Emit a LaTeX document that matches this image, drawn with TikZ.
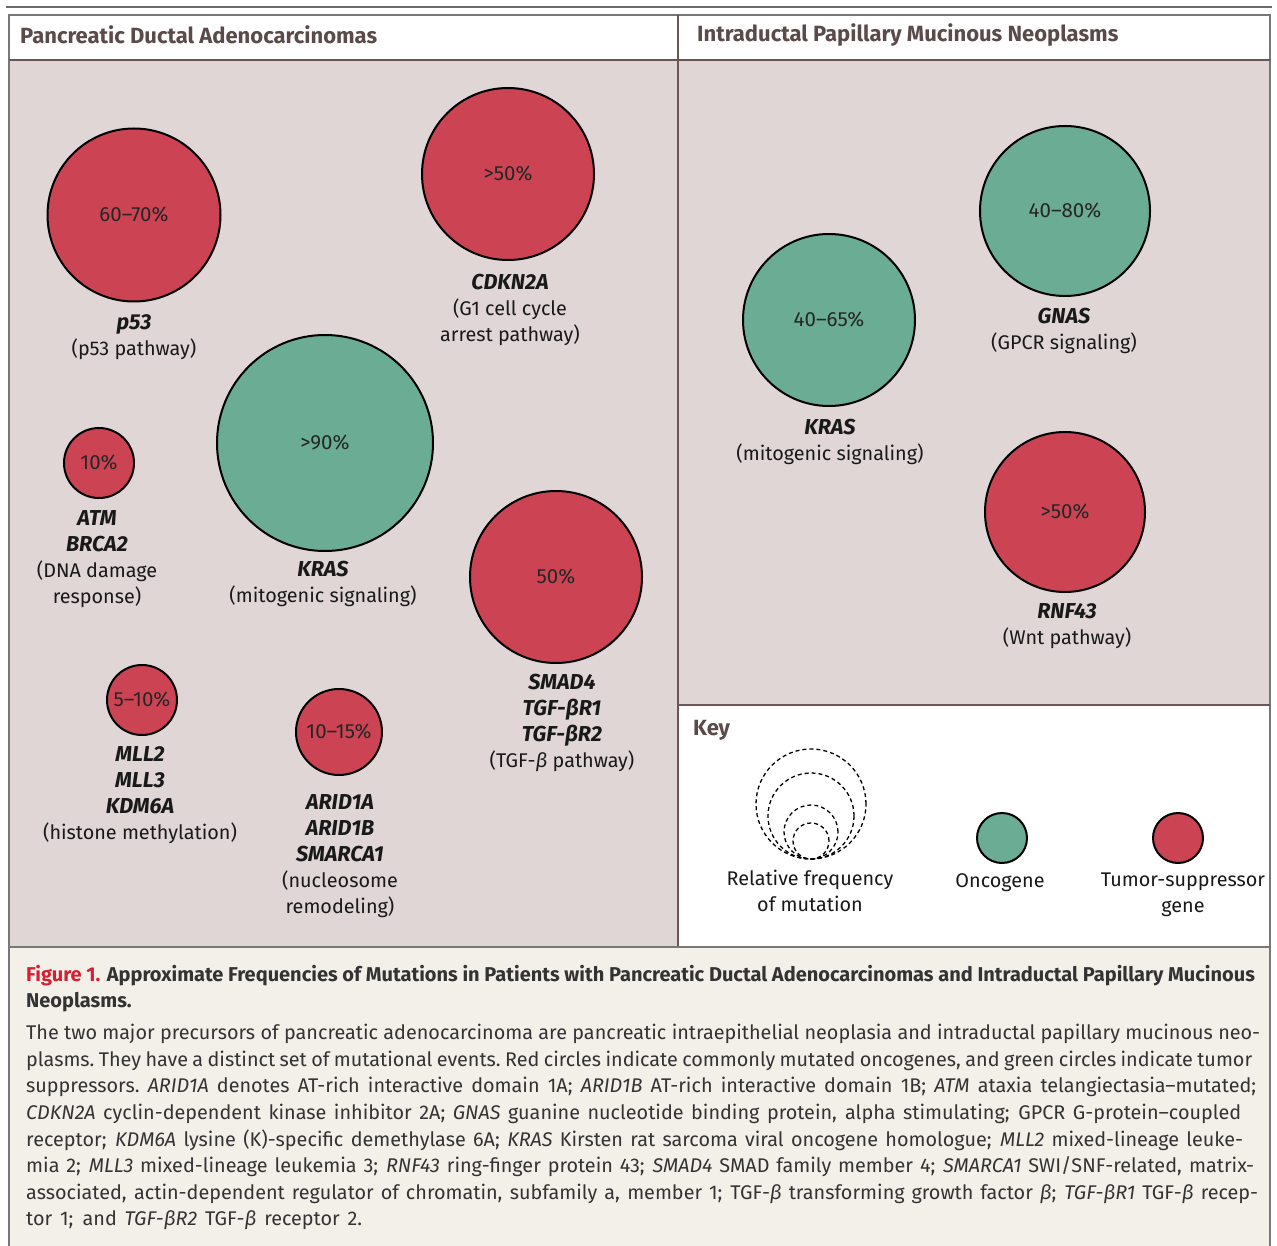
\documentclass[tikz,border=0pt]{standalone}
\usepackage{fontspec}
\setmainfont{Fira Sans}
\definecolor{tsred}{HTML}{CC4454}
\definecolor{oncgreen}{HTML}{6AAC94}
\definecolor{panelbg}{HTML}{E0D6D6}
\definecolor{capbg}{HTML}{F3F0EA}
\definecolor{framegray}{HTML}{777777}
\definecolor{brownline}{HTML}{6B5555}
\definecolor{headtext}{HTML}{5A4A4A}
\definecolor{figred}{HTML}{D42030}
\definecolor{captext}{HTML}{333333}
\tikzset{
  gene/.style={circle, draw=black, line width=2pt, inner sep=0pt,
    font=\fontsize{20.5}{22}\selectfont, text=black!85},
  tsg/.style={gene, fill=tsred},
  onc/.style={gene, fill=oncgreen},
  lbl/.style={align=center, font=\fontsize{19.8}{26}\selectfont, inner sep=0pt,
    anchor=north, text=black!90},
  keycirc/.style={circle, draw=black, line width=1.3pt, dash pattern=on 4pt off 3pt,
    inner sep=0pt},
  head/.style={anchor=west, font=\fontsize{22}{24}\selectfont\bfseries, text=headtext, inner sep=0pt},
  frame/.style={draw=framegray, line width=2pt},
}
\newcommand{\gn}[1]{{\fontsize{21.6}{26}\selectfont\textbf{\textit{#1}}}}
\newcommand{\capline}[2]{\makebox[#1pt][s]{\spaceskip=5pt plus 12pt minus 3pt\relax\xspaceskip=5pt plus 12pt minus 3pt\relax #2}}
\begin{document}
\begin{tikzpicture}[x=1pt,y=-1pt]
\useasboundingbox (0,0) rectangle (1277,1246);
% backgrounds
\fill[white] (0,0) rectangle (1277,1246);
\fill[panelbg] (9,60) rectangle (678,947);
\fill[panelbg] (678,60) rectangle (1270,705);
\fill[capbg] (9,947) rectangle (1270,1246);
% frame
\draw[line width=2pt, draw=framegray!90!black] (6,7) -- (1272,7);
\draw[frame] (9,1246) -- (9,15) -- (1270,15) -- (1270,1246);
\draw[draw=brownline, line width=1.5pt] (9,60) -- (1270,60);
\draw[draw=brownline, line width=1.5pt] (678,15) -- (678,947);
\draw[draw=brownline, line width=1.5pt] (678,705) -- (1270,705);
\draw[frame] (9,947) -- (1270,947);
% headers
\node[head] (hpda) at (20,35) {Pancreatic Ductal Adenocarcinomas};
\node[head] (hipmn) at (697,35) {Intraductal Papillary Mucinous Neoplasms};
% PDA circles
\node[tsg, minimum size=173pt] (p53) at (134,215) {60–70\%};
\node[tsg, minimum size=172pt] (cdkn) at (508,174) {>50\%};
\node[onc, minimum size=216pt] (kras) at (325,443) {>90\%};
\node[tsg, minimum size=70pt] (atm) at (99,463) {10\%};
\node[tsg, minimum size=172pt] (smad) at (556,577) {50\%};
\node[tsg, minimum size=70pt] (mll) at (142,700) {5–10\%};
\node[tsg, minimum size=86pt] (arid) at (339,732) {10–15\%};
% PDA labels
\node[lbl] (lp53) at (134,314) {\gn{p53}\\(p53 pathway)};
\node[lbl] (lcdkn) at (510,274) {\gn{CDKN2A}\\(G1 cell cycle\\arrest pathway)};
\node[lbl] (latm) at (97,510) {\gn{ATM}\\\gn{BRCA2}\\(DNA damage\\response)};
\node[lbl] (lkras) at (323,561) {\gn{KRAS}\\(mitogenic signaling)};
\node[lbl] (lsmad) at (562,674) {\gn{SMAD4}\\\gn{TGF-βR1}\\\gn{TGF-βR2}\\(TGF-\textit{β} pathway)};
\node[lbl] (lmll) at (140,746) {\gn{MLL2}\\\gn{MLL3}\\\gn{KDM6A}\\(histone methylation)};
\node[lbl] (larid) at (340,794) {\gn{ARID1A}\\\gn{ARID1B}\\\gn{SMARCA1}\\(nucleosome\\remodeling)};
% IPMN circles
\node[onc, minimum size=172pt] (kras2) at (829,320) {40–65\%};
\node[onc, minimum size=170pt] (gnas) at (1065,211) {40–80\%};
\node[tsg, minimum size=160pt] (rnf) at (1065,512) {>50\%};
\node[lbl] (lkras2) at (830,419) {\gn{KRAS}\\(mitogenic signaling)};
\node[lbl] (lgnas) at (1064,308) {\gn{GNAS}\\(GPCR signaling)};
\node[lbl] (lrnf) at (1067,603) {\gn{RNF43}\\(Wnt pathway)};
% Key
\node[head] (hkey) at (693,730) {Key};
\node[keycirc, minimum size=110pt] (k1) at (811,804) {};
\node[keycirc, minimum size=86pt] (k2) at (811,816) {};
\node[keycirc, minimum size=54pt] (k3) at (811,832) {};
\node[keycirc, minimum size=36pt] (k4) at (811,841) {};
\node[onc, minimum size=50pt] (konc) at (1002,838) {};
\node[tsg, minimum size=50pt] (ktsg) at (1178,838) {};
\node[lbl] (lk1) at (810,870) {Relative frequency\\of mutation};
\node[lbl] (lk2) at (1000,873) {Oncogene};
\node[lbl] (lk3) at (1183,873) {Tumor-suppressor\\gene};
% caption
\node[anchor=north west, align=left, inner sep=0pt, text=captext,
  font=\fontsize{20}{26}\selectfont\bfseries] (captitle) at (26,965)
  {{\color{figred}Figure 1.} Approximate Frequencies of Mutations in Patients with Pancreatic Ductal Adenocarcinomas and Intraductal Papillary Mucinous\\Neoplasms.};
\node[anchor=north west, align=left, inner sep=0pt, text=captext,
  font=\fontsize{19.8}{26.6}\selectfont] (capbody) at (26,1024)
  {\capline{1234}{The two major precursors of pancreatic adenocarcinoma are pancreatic intraepithelial neoplasia and intraductal papillary mucinous neo-}\\
\capline{1226}{plasms. They have a distinct set of mutational events. Red circles indicate commonly mutated oncogenes, and green circles indicate tumor}\\
\capline{1230}{suppressors. \textit{ARID1A} denotes AT-rich interactive domain 1A; \textit{ARID1B} AT-rich interactive domain 1B; \textit{ATM} ataxia telangiectasia–mutated;}\\
\capline{1215}{\textit{CDKN2A} cyclin-dependent kinase inhibitor 2A; \textit{GNAS} guanine nucleotide binding protein, alpha stimulating; GPCR G-protein–coupled}\\
\capline{1217}{receptor; \textit{KDM6A} lysine (K)-specific demethylase 6A; \textit{KRAS} Kirsten rat sarcoma viral oncogene homologue; \textit{MLL2} mixed-lineage leuke-}\\
\capline{1228}{mia 2; \textit{MLL3} mixed-lineage leukemia 3; \textit{RNF43} ring-finger protein 43; \textit{SMAD4} SMAD family member 4; \textit{SMARCA1} SWI/SNF-related, matrix-}\\
\capline{1232}{associated, actin-dependent regulator of chromatin, subfamily a, member 1; TGF-\textit{β} transforming growth factor \textit{β}; \textit{TGF-βR1} TGF-\textit{β} recep-}\\
\capline{336}{tor 1; and \textit{TGF-βR2} TGF-\textit{β} receptor 2.}};
\end{tikzpicture}
\end{document}
